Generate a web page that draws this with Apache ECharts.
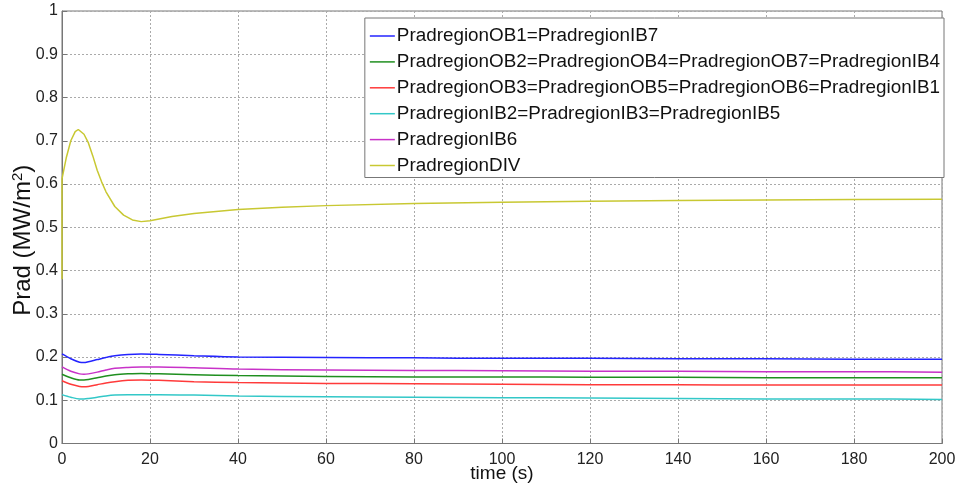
<!DOCTYPE html>
<html>
<head>
<meta charset="utf-8">
<script src="https://cdn.jsdelivr.net/npm/echarts@6/dist/echarts.min.js"></script>
<style>html,body{margin:0;padding:0;background:#fff}#c{width:958px;height:488px}</style>
</head>
<body>
<div id="c"></div>
<script>
const seriesNames = [
  'PradregionOB1=PradregionIB7',
  'PradregionOB2=PradregionOB4=PradregionOB7=PradregionIB4',
  'PradregionOB3=PradregionOB5=PradregionOB6=PradregionIB1',
  'PradregionIB2=PradregionIB3=PradregionIB5',
  'PradregionIB6',
  'PradregionDIV'
];
const colors = ['#2424ff', '#1f8f1f', '#ff3a3a', '#33c8c8', '#c832c8', '#c8c832'];

const timeRegions = [0, 2, 4, 5, 6, 8, 10, 12, 15, 18, 22, 30, 40, 60, 80, 100, 120, 140, 160, 180, 200];
const ob1 = [0.207, 0.196, 0.188, 0.187, 0.189, 0.194, 0.199, 0.203, 0.206, 0.207, 0.206, 0.203, 0.200, 0.199, 0.198, 0.197, 0.197, 0.196, 0.196, 0.195, 0.195];
const ob2 = [0.160, 0.152, 0.147, 0.147, 0.148, 0.152, 0.156, 0.159, 0.161, 0.162, 0.161, 0.159, 0.157, 0.155, 0.154, 0.154, 0.153, 0.153, 0.152, 0.152, 0.152];
const ob3 = [0.145, 0.137, 0.132, 0.131, 0.132, 0.136, 0.140, 0.143, 0.146, 0.147, 0.146, 0.143, 0.141, 0.139, 0.138, 0.137, 0.136, 0.136, 0.135, 0.135, 0.135];
const ib2 = [0.113, 0.107, 0.103, 0.103, 0.104, 0.107, 0.110, 0.112, 0.113, 0.113, 0.113, 0.112, 0.110, 0.108, 0.107, 0.106, 0.105, 0.104, 0.103, 0.103, 0.102];
const ib6 = [0.177, 0.167, 0.161, 0.160, 0.161, 0.165, 0.170, 0.174, 0.176, 0.177, 0.177, 0.175, 0.172, 0.170, 0.169, 0.168, 0.167, 0.167, 0.166, 0.166, 0.165];

const timeDiv = [0, 0, 1, 2, 3, 3.7, 5, 6, 7, 8, 9, 10, 12, 14, 16, 18, 20, 25, 30, 40, 50, 60, 80, 100, 120, 140, 160, 180, 200];
const div = [0.38, 0.612, 0.662, 0.700, 0.721, 0.726, 0.715, 0.695, 0.665, 0.632, 0.605, 0.582, 0.548, 0.528, 0.517, 0.513, 0.515, 0.525, 0.532, 0.541, 0.546, 0.550, 0.555, 0.558, 0.560, 0.562, 0.563, 0.564, 0.565];

const yTicks = [0, 0.1, 0.2, 0.3, 0.4, 0.5, 0.6, 0.7, 0.8, 0.9, 1];

function pairs(t, v) { return t.map((x, i) => [x, v[i]]); }
const allData = [
  pairs(timeRegions, ob1), pairs(timeRegions, ob2), pairs(timeRegions, ob3),
  pairs(timeRegions, ib2), pairs(timeRegions, ib6), pairs(timeDiv, div)
];

const chart = echarts.init(document.getElementById('c'));
const font = '"Liberation Sans", Arial, sans-serif';
chart.setOption({
  backgroundColor: '#fff',
  animation: false,
  textStyle: { fontFamily: font },
  grid: { left: 62, top: 11, right: 16, bottom: 44.5, show: true, borderColor: '#777', borderWidth: 1,
          containLabel: false, outerBoundsMode: 'none' },
  xAxis: {
    type: 'value', min: 0, max: 200, interval: 20,
    name: 'time (s)', nameLocation: 'middle', nameGap: 21, nameMoveOverlap: false,
    nameTextStyle: { fontSize: 19, color: '#111', fontFamily: font },
    axisLine: { show: true, lineStyle: { color: '#777' } },
    axisTick: { show: true, inside: true, length: 5, lineStyle: { color: '#777' } },
    axisLabel: { fontSize: 16, color: '#222', margin: 8, fontFamily: font },
    splitLine: { show: true, lineStyle: { color: '#aaa', type: [2, 2] } }
  },
  yAxis: {
    type: 'value', min: 0, max: 1, interval: 0.1,
    name: 'Prad (MW/m{sup|2})', nameLocation: 'middle', nameGap: 25, nameRotate: 90, nameMoveOverlap: false,
    nameTextStyle: { fontSize: 24, color: '#111', fontFamily: font, padding: [0, 26, 0, 0],
      rich: { sup: { fontSize: 15, color: '#111', fontFamily: font, padding: [0, 0, 12, 0] } } },
    axisLine: { show: true, lineStyle: { color: '#777' } },
    axisTick: { show: true, inside: true, length: 5, lineStyle: { color: '#777' } },
    axisLabel: { fontSize: 16, color: '#222', margin: 4, fontFamily: font,
      formatter: v => { const t = yTicks.find(x => Math.abs(x - v) < 1e-9); return t === undefined ? '' : String(t); } },
    splitLine: { show: true, lineStyle: { color: '#aaa', type: [2, 2] } }
  },
  legend: {
    orient: 'vertical', right: 14, top: 18,
    backgroundColor: '#fff', borderColor: '#777', borderWidth: 1,
    padding: [7, 4, 1, 5], itemGap: 3.9,
    icon: 'rect', itemWidth: 25, itemHeight: 1.5,
    textStyle: { fontSize: 18.85, color: '#111', lineHeight: 22, fontFamily: font, padding: [0, 0, 0, -3] },
    data: seriesNames
  },
  series: seriesNames.map((n, i) => ({
    name: n, type: 'line', data: allData[i], showSymbol: false, symbol: 'none',
    smooth: i === 5 ? false : 0.3,
    lineStyle: { color: colors[i], width: 1.5 }, itemStyle: { color: colors[i] }
  }))
});
</script>
</body>
</html>
